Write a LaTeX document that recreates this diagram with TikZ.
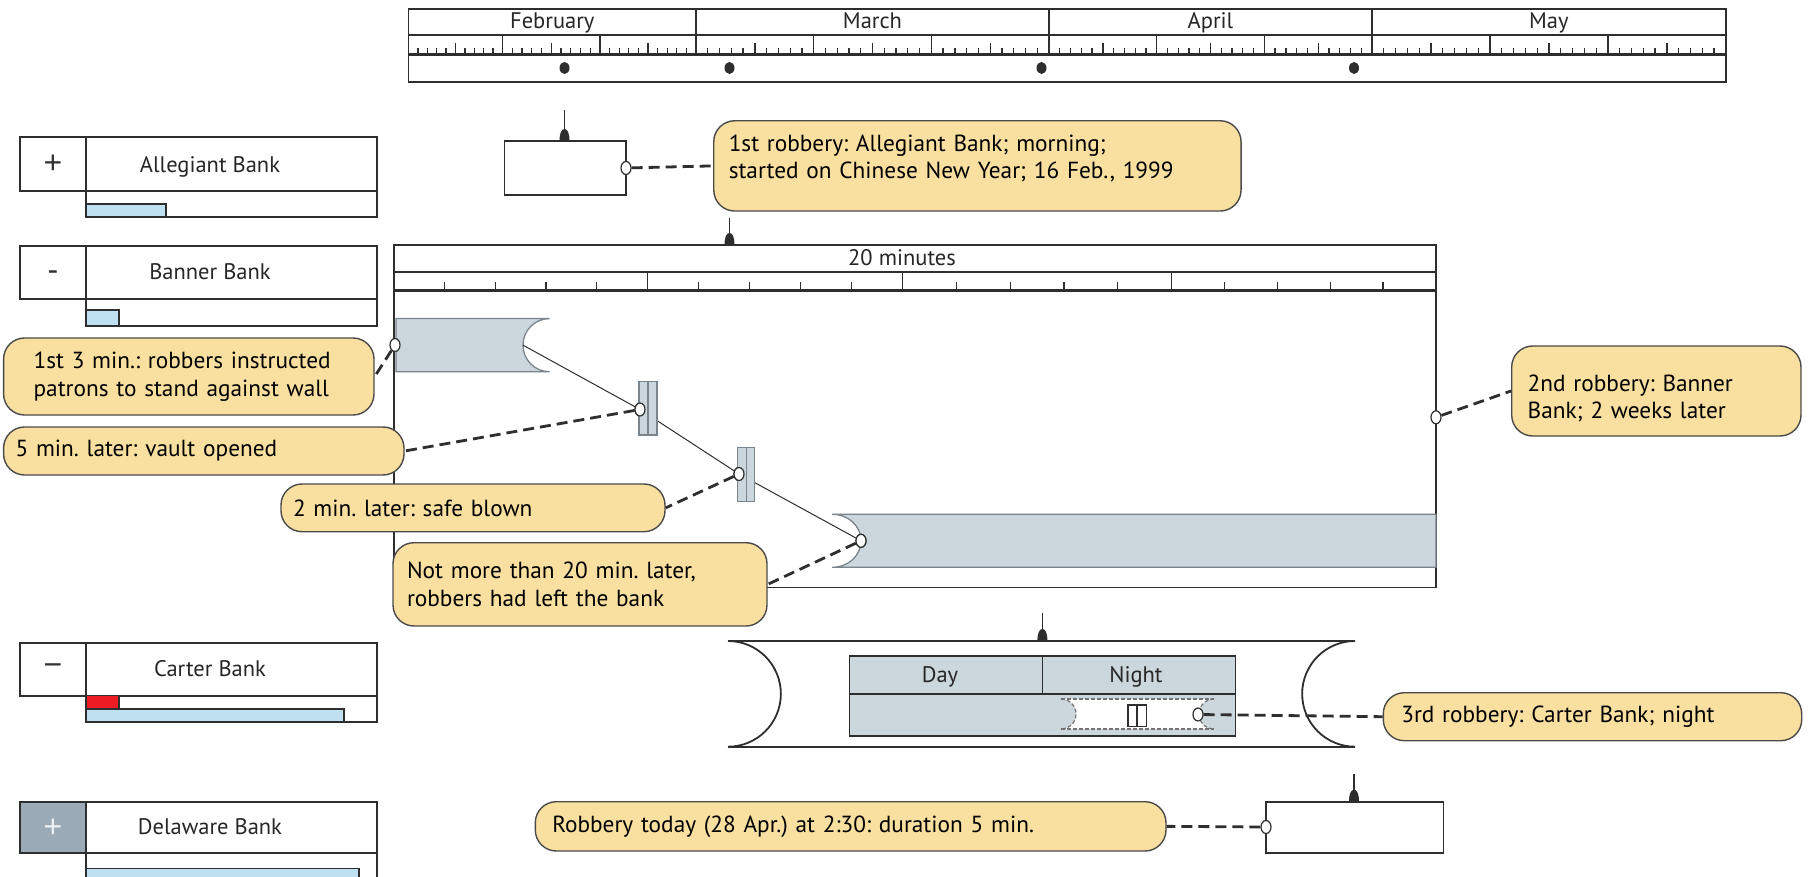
\documentclass[tikz,border=0pt]{standalone}
\usepackage{fontspec}
\newfontfamily\pts{PT Sans}
\newfontfamily\lib{Liberation Sans}
\usetikzlibrary{shapes.geometric}
\definecolor{callfill}{HTML}{FAE0A0}
\definecolor{calldraw}{HTML}{4A4A4A}
\definecolor{bandfill}{HTML}{CBD6DD}
\definecolor{bandline}{HTML}{7A848C}
\definecolor{barblue}{HTML}{BEE0F0}
\definecolor{barred}{HTML}{EC1C24}
\definecolor{cellgray}{HTML}{9AAAB6}
\definecolor{linec}{HTML}{2E2E2E}
\newcommand\txtf{\pts\fontsize{23.3}{27.5}\selectfont}
\newcommand\lblf{\pts\fontsize{22.5}{27}\selectfont}
\newcommand\symf{\lib\fontsize{32}{32}\selectfont}
\frenchspacing
\begin{document}
\frenchspacing
\begin{tikzpicture}[x=1pt,y=-1pt,
  ln/.style={draw=linec,line width=1.8pt},
  tick/.style={draw=linec,line width=1.3pt},
  heavy/.style={draw=linec,line width=3pt},
  callout/.style={draw=calldraw,line width=1.4pt,fill=callfill,rounded corners=21pt,align=left,font=\txtf,inner ysep=0pt},
  evbox/.style={draw=linec,line width=1.8pt,fill=white,inner sep=0pt},
  ocirc/.style={ellipse,draw=linec,fill=white,line width=1.2pt,minimum width=10pt,minimum height=13pt,inner sep=0pt},
  conn/.style={draw=linec,line width=2.8pt,dash pattern=on 11pt off 6pt},
  band/.style={fill=bandfill,draw=bandline,line width=1.3pt},
  lbl/.style={font=\lblf,inner sep=0pt,anchor=base,text=black!85},
  sym/.style={font=\symf,inner sep=0pt,text=black!80},
  thinline/.style={draw=linec,line width=1pt},
  seldash/.style={draw=black!55,line width=1.2pt,dash pattern=on 4pt off 2pt}]
\useasboundingbox (0,0) rectangle (1810,877);

% ---------------- top timeline ----------------
\draw[ln] (408.5,9.3) rectangle (1725.7,82);
\draw[ln] (408.5,35) -- (1725.7,35);
\foreach \m in {696,1049,1372}{\draw[ln] (\m,9.3) -- (\m,35);}
\foreach \a/\b in {408.5/502.5,502.5/600,600/696,696/813.7,813.7/931.3,931.3/1049,1049/1156.7,1156.7/1264.3,1264.3/1372,1372/1490,1490/1608,1608/1725.7}{
  \foreach \i in {1,2,3,4,6,7,8,9}{\draw[tick] ({\a+(\b-\a)*\i/10},48) -- ++(0,7);}
  \draw[tick] ({(\a+\b)/2},43) -- ++(0,12);
  \draw[tick] (\b,35) -- (\b,55);
}
\draw[heavy] (408.5,55) -- (1725.7,55);
\node[lbl] (mfeb) at (552.3,29) {February};
\node[lbl] (mmar) at (872.5,29) {March};
\node[lbl] (mapr) at (1210.5,29) {April};
\node[lbl] (mmay) at (1548.9,29) {May};
\foreach \d in {564.5,729.5,1041.5,1354}{\fill[linec] (\d,68) ellipse [x radius=5, y radius=6];}

% ---------------- bank panels ----------------
% Allegiant
\draw[ln] (20,137.3) rectangle (376.7,190.7);
\draw[ln] (86,137.3) -- (86,190.7);
\draw[ln,line width=1.3pt,fill=barblue] (86,204) rectangle (166,217.3);
\draw[ln] (86,190.7) -- (86,217.3) -- (376.7,217.3) -- (376.7,190.7);
\node[sym] (sa) at (53,164.5) {+};
\node[lbl] (na) at (210,173) {Allegiant Bank};
% Banner
\draw[ln] (20,245.7) rectangle (376.7,298.7);
\draw[ln] (86,245.7) -- (86,298.7);
\draw[ln,line width=1.3pt,fill=barblue] (86,310) rectangle (119,325.7);
\draw[ln] (86,298.7) -- (86,325.7) -- (376.7,325.7) -- (376.7,298.7);
\node[sym] (sb) at (53,275.7) {-};
\node[lbl] (nb) at (210,279.2) {Banner Bank};
% Carter
\draw[ln] (20,643.3) rectangle (376.7,695.7);
\draw[ln] (86,643.3) -- (86,695.7);
\draw[ln,line width=1.3pt,fill=barred] (86,695.7) rectangle (119,709);
\draw[ln,line width=1.3pt,fill=barblue] (86,709) rectangle (344,722.3);
\draw[ln] (86,695.7) -- (86,722.3) -- (376.7,722.3) -- (376.7,695.7);
\node[sym] (sc) at (53,670) {−};
\node[lbl] (nc) at (210,676.5) {Carter Bank};
% Delaware
\draw[ln,fill=cellgray] (20,802.3) rectangle (86,852.7);
\draw[ln] (86,802.3) rectangle (376.7,852.7);
\draw[ln] (86,852.7) -- (86,878);
\draw[ln] (376.7,852.7) -- (376.7,878);
\draw[ln,line width=1.3pt,fill=barblue] (86,878) -- (86,868.3) -- (359,868.3) -- (359,878);
\node[sym,text=white!85!cellgray] (sd) at (53,828) {+};
\node[lbl] (nd) at (210,834.5) {Delaware Bank};

% ---------------- 1st robbery ----------------
\node[evbox,minimum width=121.5pt,minimum height=54pt] (allbox) at (565.25,168) {};
\coordinate (allpin) at (564.5,110);
\draw[ln] (allpin) -- (564.5,141);
\fill[linec] (559.5,141) .. controls (559.5,133) and (561.5,129) .. (564.5,129) .. controls (567.5,129) and (569.5,133) .. (569.5,141) -- cycle;
\node[callout,text width=497.3pt,inner xsep=15pt,minimum height=90.3pt] (call1) at (977.4,165.9)
  {1st robbery: Allegiant Bank; morning;\\started on Chinese New Year; 16 Feb., 1999\rule[-18pt]{0pt}{18pt}};
\node[ocirc] (call) at (626,168) {};
\draw[conn] (call) -- (call1.west);

% ---------------- 20 minutes panel ----------------
\node[draw=linec,line width=1.8pt,minimum width=1042.4pt,minimum height=342.5pt,inner sep=0pt] (panel) at (914.8,416.25) {};
\coordinate (panpin) at (729.5,218);
\draw[ln] (panpin) -- (729.5,245);
\fill[linec] (724.5,245) .. controls (724.5,237) and (726.5,233) .. (729.5,233) .. controls (732.5,233) and (734.5,237) .. (734.5,245) -- cycle;
\draw[ln] (393.6,271.7) -- (1436,271.7);
\foreach \a/\b in {393.6/647.6,647.6/902.7,902.7/1171.6,1171.6/1436}{
  \foreach \i in {1,2,3,4}{\draw[tick] ({\a+(\b-\a)*\i/5},282) -- ++(0,8);}
  \draw[tick] (\b,271.7) -- (\b,290);
}
\draw[heavy] (393.6,291) -- (1436,291);
\node[lbl] (lmin) at (902,266) {20 minutes};

% bands
\draw[band] (396,318.6) -- (549.5,318.6) .. controls (534.8,318.6) and (523,330.5) .. (523,345.15)
  .. controls (523,359.8) and (534.8,371.7) .. (549.5,371.7) -- (396,371.7) -- cycle;
\draw[band] (832,514.3) -- (1436,514.3) -- (1436,567.3) -- (832,567.3)
  .. controls (849,567.3) and (861,555) .. (861,540.8) .. controls (861,526.6) and (849,514.3) .. (832,514.3) -- cycle;
\coordinate (b1v) at (523,345.15);
\node[ocirc] (cvault) at (640,409.5) {};
\node[ocirc] (csafe) at (739,474) {};
\node[ocirc] (cend) at (861,540.8) {};
\draw[thinline] (b1v) -- (cvault) -- (csafe) -- (cend);
% markers
\draw[band] (639,381.7) rectangle (657,435);
\draw[band] (648,381.7) -- (648,435);
\draw[band] (737.8,447.7) rectangle (754.8,501.7);
\draw[band] (746.3,447.7) -- (746.3,501.7);
\node[ocirc] (cvault) at (640,409.5) {};
\node[ocirc] (csafe) at (739,474) {};
\node[ocirc] (cend) at (861,540.8) {};
\node[ocirc] (cb1) at (395,345) {};
\node[ocirc] (cpanel) at (1436,417.3) {};

% callouts of panel
\node[callout,text width=310.4pt,inner xsep=30pt,minimum height=77pt] (c3min) at (188.8,376.5)
  {1st 3 min.: robbers instructed\\patrons to stand against wall};
\node[callout,text width=376.4pt,inner xsep=12pt,minimum height=48pt] (c5min) at (203.8,451)
  {5 min. later: vault opened};
\node[callout,text width=360pt,inner xsep=12pt,minimum height=47.7pt] (c2min) at (473,507.85)
  {2 min. later: safe blown};
\node[callout,text width=346pt,inner xsep=14pt,minimum height=83.3pt] (cnot) at (580,584.35)
  {Not more than 20 min. later,\\robbers had left the bank};
\node[callout,text width=257.3pt,inner xsep=16pt,minimum height=90pt] (c2nd) at (1656.35,391)
  {\rule{0pt}{31pt}2nd robbery: Banner\\Bank; 2 weeks later};
\draw[conn] (cb1) -- (c3min.east);
\draw[conn] (cvault) -- (c5min.east);
\draw[conn] (csafe) -- (c2min.east);
\draw[conn] (cend) -- (cnot.east);
\draw[conn] (cpanel) -- (c2nd.west);

% ---------------- Carter ----------------
\draw[ln] (728,641) -- (1355,641);
\draw[ln] (728,746.7) -- (1355,746.7);
\draw[ln] (728,641) .. controls (757.2,641) and (780.85,664.7) .. (780.85,693.85)
  .. controls (780.85,723) and (757.2,746.7) .. (728,746.7);
\draw[ln] (1355,641) .. controls (1325.8,641) and (1302.15,664.7) .. (1302.15,693.85)
  .. controls (1302.15,723) and (1325.8,746.7) .. (1355,746.7);
\coordinate (carpin) at (1042.4,613);
\draw[ln] (carpin) -- (1042.4,641);
\fill[linec] (1037.4,641) .. controls (1037.4,633) and (1039.4,629) .. (1042.4,629) .. controls (1045.4,629) and (1047.4,633) .. (1047.4,641) -- cycle;
\draw[ln,fill=bandfill] (849.4,656) rectangle (1235.5,735.7);
\draw[ln] (849.4,694) -- (1235.5,694);
\draw[ln] (1042.4,656) -- (1042.4,694);
\node[lbl] (lday) at (940,682) {Day};
\node[lbl] (lnight) at (1136,682) {Night};
\fill[white] (1061,699) -- (1214,699) .. controls (1205.7,699) and (1199,705.7) .. (1199,714)
  .. controls (1199,722.3) and (1205.7,729) .. (1214,729) -- (1061,729)
  .. controls (1069.3,729) and (1076,722.3) .. (1076,714) .. controls (1076,705.7) and (1069.3,699) .. (1061,699) -- cycle;
\draw[seldash] (1061,699) -- (1214,699);
\draw[seldash] (1061,729) -- (1214,729);
\draw[seldash] (1061,699) .. controls (1069.3,699) and (1076,705.7) .. (1076,714) .. controls (1076,722.3) and (1069.3,729) .. (1061,729);
\draw[seldash] (1214,699) .. controls (1205.7,699) and (1199,705.7) .. (1199,714) .. controls (1199,722.3) and (1205.7,729) .. (1214,729);
\draw[ln,line width=1.3pt,fill=white] (1128,705) rectangle (1146.5,726.7);
\draw[ln,line width=1.3pt] (1137,705) -- (1137,726.7);
\node[ocirc] (ccar) at (1198,714.5) {};
\node[callout,text width=382.4pt,inner xsep=18pt,minimum height=48pt] (c3rd) at (1592.5,716.7)
  {3rd robbery: Carter Bank; night};
\draw[conn] (ccar) -- (c3rd.west);

% ---------------- Delaware ----------------
\node[evbox,minimum width=177.4pt,minimum height=51pt] (delbox) at (1354.7,827.2) {};
\coordinate (delpin) at (1354,774);
\draw[ln] (delpin) -- (1354,801.7);
\fill[linec] (1349,801.7) .. controls (1349,793.7) and (1351,789.7) .. (1354,789.7) .. controls (1357,789.7) and (1359,793.7) .. (1359,801.7) -- cycle;
\node[callout,text width=596.7pt,inner xsep=17pt,minimum height=49.3pt] (ctoday) at (850.65,826.35)
  {Robbery today (28 Apr.) at 2:30: duration 5 min.};
\node[ocirc] (cdel) at (1266,827) {};
\draw[conn] (cdel) -- (ctoday.east);
\end{tikzpicture}
\end{document}
